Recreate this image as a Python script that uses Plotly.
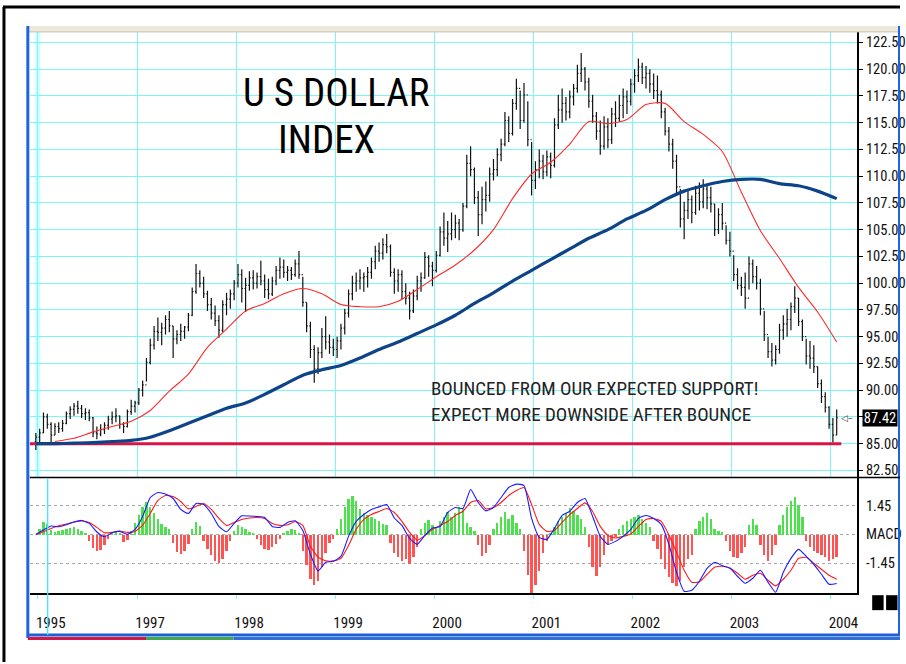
import subprocess
import pandas as pd
import plotly.graph_objects as go

# ---------------- data ----------------
bar_dates = pd.date_range("1995-12-25", "2004-01-24", periods=211)

highs = [
    86.0, 86.4, 87.9, 87.8, 87.0, 86.9, 87.0, 87.2, 88.0, 88.5,
    88.8, 89.0, 88.6, 88.3, 88.2, 87.5, 86.6, 86.8, 87.0, 87.6,
    88.0, 88.3, 87.6, 87.0, 88.2, 89.1, 89.0, 90.2, 90.9, 93.0,
    94.8, 96.0, 96.8, 96.3, 97.0, 97.4, 96.0, 95.6, 96.2, 96.0,
    97.2, 99.6, 101.8, 101.2, 100.6, 99.3, 98.6, 97.9, 97.0, 98.4,
    99.1, 99.4, 100.3, 101.8, 101.3, 100.5, 101.1, 101.2, 101.0, 102.1,
    100.8, 100.4, 100.6, 101.6, 102.4, 102.2, 101.6, 101.5, 102.2, 103.0,
    100.6, 98.2, 96.4, 94.2, 94.0, 95.8, 96.9, 95.2, 94.8, 95.0,
    96.2, 97.6, 99.4, 100.7, 101.0, 101.3, 101.0, 101.5, 102.4, 103.5,
    103.8, 104.2, 104.6, 103.6, 101.4, 101.3, 101.2, 100.0, 99.2, 99.4,
    100.7, 101.0, 102.9, 102.6, 102.0, 103.0, 105.3, 106.6, 105.8, 106.6,
    106.4, 106.0, 107.5, 112.0, 112.8, 110.8, 108.6, 109.0, 109.5, 110.8,
    111.6, 112.6, 113.5, 116.0, 115.6, 117.2, 119.1, 118.0, 118.7, 117.0,
    113.2, 111.4, 112.5, 112.0, 112.4, 112.2, 115.4, 117.6, 118.2, 117.4,
    118.0, 118.6, 120.4, 121.5, 120.2, 119.2, 117.6, 116.0, 115.2, 115.6,
    115.4, 116.4, 117.0, 117.6, 118.2, 118.0, 119.1, 120.0, 121.0, 120.6,
    120.3, 120.0, 119.6, 119.4, 118.0, 116.4, 114.6, 113.5, 112.0, 108.8,
    107.6, 108.6, 108.2, 109.1, 109.4, 109.7, 109.2, 109.0, 107.4, 107.0,
    107.5, 105.4, 104.8, 102.6, 101.4, 100.6, 101.0, 102.5, 102.2, 101.6,
    100.4, 97.4, 95.0, 94.4, 94.2, 96.2, 97.0, 97.6, 98.2, 99.7,
    98.6, 96.6, 94.8, 94.6, 94.2, 92.2, 91.0, 89.8, 88.5, 87.4, 88.2,
]
lows = [
    84.4, 85.0, 86.0, 86.4, 85.1, 85.8, 86.0, 86.1, 86.8, 87.3,
    87.6, 87.8, 87.4, 87.2, 87.1, 85.6, 85.4, 85.7, 85.9, 86.3,
    86.8, 87.0, 86.4, 86.0, 86.5, 87.7, 87.9, 88.6, 89.4, 90.8,
    92.4, 93.8, 94.6, 94.2, 95.2, 95.4, 93.0, 94.3, 94.6, 94.8,
    95.5, 96.9, 99.0, 99.6, 98.6, 97.4, 96.6, 96.0, 94.9, 95.4,
    97.0, 97.6, 98.4, 99.6, 98.2, 97.3, 99.3, 99.4, 99.5, 99.8,
    98.6, 98.5, 98.8, 99.8, 100.4, 100.5, 100.2, 100.3, 100.6, 100.4,
    97.8, 95.4, 93.0, 90.7, 91.5, 93.0, 93.8, 93.4, 93.2, 93.0,
    93.8, 95.2, 96.8, 98.4, 99.2, 99.4, 99.2, 99.6, 100.4, 101.3,
    102.0, 102.2, 102.8, 100.6, 99.0, 99.2, 98.5, 98.0, 96.6, 97.2,
    98.4, 99.2, 100.4, 100.6, 99.7, 101.0, 102.5, 103.5, 102.9, 104.0,
    104.2, 104.0, 104.8, 107.0, 110.0, 107.4, 104.4, 105.5, 106.7, 107.6,
    109.6, 110.0, 111.4, 112.8, 113.2, 113.8, 116.2, 114.4, 115.0, 112.8,
    108.2, 108.8, 109.8, 109.7, 110.0, 109.8, 110.8, 114.4, 115.0, 115.2,
    115.4, 116.6, 117.8, 118.8, 118.0, 116.4, 115.0, 113.4, 112.0, 112.5,
    112.6, 113.0, 114.6, 115.1, 115.4, 115.8, 116.6, 117.8, 118.8, 118.6,
    118.2, 117.8, 117.2, 116.8, 115.4, 113.8, 112.3, 110.7, 108.4, 105.2,
    104.1, 106.0, 105.6, 106.4, 106.8, 107.0, 106.9, 106.6, 104.4, 104.6,
    105.0, 103.6, 102.5, 100.2, 99.4, 98.8, 97.6, 99.4, 100.0, 99.4,
    97.0, 94.6, 93.0, 92.2, 92.4, 93.4, 94.7, 95.0, 95.6, 97.2,
    96.0, 94.6, 92.4, 92.0, 91.6, 90.2, 88.8, 87.9, 86.4, 85.1, 85.8,
]
closes = [
    85.6, 86.0, 87.5, 86.8, 85.8, 86.6, 86.4, 86.9, 87.8, 88.2,
    88.5, 88.3, 87.8, 87.9, 87.4, 86.0, 85.9, 86.3, 86.7, 87.3,
    87.5, 87.6, 86.8, 86.6, 88.0, 88.5, 88.8, 90.0, 90.5, 92.6,
    94.2, 95.5, 95.4, 95.8, 96.6, 96.0, 94.8, 95.2, 95.5, 95.9,
    97.0, 99.2, 100.9, 100.0, 99.0, 98.0, 97.2, 96.5, 95.6, 98.0,
    98.5, 99.0, 100.0, 100.8, 99.5, 99.8, 100.5, 100.0, 100.6, 100.2,
    99.4, 99.0, 100.2, 101.2, 101.5, 101.0, 101.2, 100.8, 101.8, 100.8,
    98.2, 96.0, 93.8, 92.0, 93.5, 95.0, 94.5, 94.0, 93.8, 94.6,
    95.8, 97.2, 99.0, 100.0, 100.2, 100.5, 100.6, 101.0, 102.0, 103.0,
    102.8, 103.6, 103.4, 101.0, 100.2, 100.8, 99.2, 98.6, 97.4, 98.8,
    100.2, 100.5, 102.4, 101.6, 101.2, 102.6, 104.8, 104.2, 104.6, 105.0,
    105.6, 105.0, 107.2, 111.2, 110.6, 108.0, 106.4, 107.8, 108.2, 110.2,
    110.6, 112.0, 113.0, 115.2, 114.0, 116.8, 118.2, 115.2, 117.6, 113.4,
    109.6, 110.6, 111.4, 110.4, 111.8, 111.0, 114.8, 116.2, 116.8, 116.0,
    117.4, 118.2, 119.6, 120.0, 118.8, 117.0, 115.6, 114.2, 112.8, 114.6,
    113.4, 115.8, 115.4, 116.6, 117.4, 117.0, 118.6, 119.4, 120.2, 119.2,
    119.6, 118.6, 118.0, 117.6, 116.0, 114.2, 113.0, 111.4, 109.0, 106.0,
    106.8, 107.8, 106.6, 108.4, 107.6, 108.8, 108.0, 107.4, 105.0, 106.4,
    105.6, 104.0, 103.0, 100.8, 99.8, 99.6, 98.6, 101.8, 100.6, 100.0,
    97.6, 95.2, 93.6, 92.8, 93.8, 95.6, 96.2, 96.6, 97.8, 98.6,
    96.4, 95.0, 93.2, 93.0, 92.2, 90.6, 89.4, 88.4, 86.8, 85.8, 87.42,
]
first_open = 85.2

# red moving average, every 5th bar from bar 5
ma_red = [85.2, 85.5, 86.1, 86.6, 87.1, 88.1, 89.9, 91.5, 94.0, 95.7,
          97.4, 98.1, 99.0, 99.5, 99.0, 98.0, 97.8, 97.8, 98.3, 99.4,
          100.6, 101.7, 103.1, 105.0, 107.9, 110.2, 111.3, 113.0, 115.1, 114.9,
          115.3, 116.7, 116.8, 115.1, 113.9, 112.3, 108.5, 104.9, 102.3, 99.6,
          97.3, 94.5]
# blue long moving average, every 5th bar from bar 0
ma_blue = [85.0, 85.0, 85.05, 85.1, 85.2, 85.3, 85.6, 86.2, 86.9, 87.6,
           88.3, 88.8, 89.6, 90.5, 91.4, 91.9, 92.3, 93.0, 93.8, 94.5,
           95.3, 96.1, 97.0, 98.1, 99.1, 100.2, 101.2, 102.2, 103.2, 104.2,
           105.0, 106.0, 106.8, 107.8, 108.6, 109.1, 109.5, 109.7, 109.7, 109.3,
           109.1, 108.6, 107.9]

# MACD lines, every 2nd bar
macd_line = [0.00, 0.22, 0.42, 0.38, 0.48, 0.62, 0.70, 0.55, 0.12, -0.12,
             0.08, 0.15, 0.00, 0.25, 0.90, 1.85, 2.10, 2.02, 1.80, 1.25,
             1.05, 1.55, 1.50, 1.05, 0.40, 0.13, 0.55, 0.93, 0.92, 0.90,
             0.85, 0.40, 0.35, 0.60, 0.68, 0.20, -1.00, -1.83, -1.40, -1.35,
             -1.10, -0.10, 0.65, 1.00, 1.25, 1.38, 1.50, 0.82, 0.45, -0.20,
             -0.50, -0.05, 0.32, 0.39, 1.10, 1.35, 1.30, 2.25, 1.60, 1.18,
             1.35, 1.85, 2.35, 2.52, 2.45, 0.80, -0.15, -0.25, 0.30, 0.95,
             1.16, 1.60, 1.80, 0.90, -0.10, -0.50, -0.35, -0.10, 0.25, 0.80,
             0.95, 0.80, 0.50, -0.50, -1.90, -2.85, -2.80, -2.35, -1.70, -1.40,
             -1.57, -1.70, -2.10, -2.45, -2.20, -1.80, -2.40, -2.90, -1.90, -1.20,
             -0.75, -1.10, -1.50, -2.00, -2.50, -2.46]
signal_line = [0.00, 0.13, 0.30, 0.43, 0.52, 0.62, 0.67, 0.60, 0.35, 0.08,
               0.10, 0.17, 0.10, 0.15, 0.45, 1.05, 1.70, 1.95, 1.90, 1.65,
               1.28, 1.40, 1.55, 1.25, 0.80, 0.45, 0.60, 0.75, 0.82, 0.85,
               0.80, 0.55, 0.45, 0.48, 0.65, 0.45, -0.60, -1.14, -1.32, -1.33,
               -1.20, -0.55, 0.25, 0.75, 1.00, 1.15, 1.30, 1.10, 0.65, 0.10,
               -0.29, -0.05, 0.25, 0.45, 0.65, 0.95, 1.16, 1.60, 1.70, 1.28,
               1.35, 1.60, 1.95, 2.20, 2.35, 1.50, 0.50, 0.15, 0.20, 0.60,
               0.99, 1.30, 1.58, 1.15, 0.40, -0.05, -0.18, -0.10, 0.02, 0.40,
               0.75, 0.80, 0.65, -0.03, -0.90, -1.80, -2.40, -2.38, -2.00, -1.65,
               -1.60, -1.68, -1.95, -2.25, -2.05, -1.95, -2.30, -2.58, -2.25, -1.80,
               -1.20, -1.15, -1.45, -1.75, -2.05, -2.25]
macd_hist = [
    0.0, 0.3, 0.63, 0.55, 0.25, 0.15, 0.2, 0.25, 0.3, 0.35,
    0.38, 0.3, 0.2, 0.05, -0.3, -0.65, -0.83, -0.75, -0.5, -0.2,
    0.1, 0.15, 0.05, -0.37, -0.25, 0.2, 0.6, 1.0, 1.4, 1.63,
    1.4, 1.1, 0.8, 0.55, 0.4, 0.3, -0.4, -0.85, -0.95, -0.8,
    -0.45, 0.3, 0.63, 0.45, -0.3, -0.7, -1.0, -1.3, -1.4, -1.2,
    -0.8, -0.3, 0.2, 0.47, 0.4, 0.3, 0.15, 0.1, -0.2, -0.5,
    -0.7, -0.78, -0.6, -0.45, -0.2, 0.05, 0.2, 0.3, 0.25, 0.1,
    -0.8, -1.5, -2.2, -2.5, -2.3, -1.6, -0.9, -0.4, -0.2, 0.3,
    0.8, 1.4, 1.8, 1.93, 1.7, 1.3, 1.1, 1.0, 0.9, 0.8,
    0.7, 0.55, 0.48, -0.4, -0.9, -1.1, -1.3, -1.2, -1.48, -1.1,
    -0.6, 0.3, 0.6, 0.73, 0.5, 0.4, 0.7, 0.9, 1.16, 0.9,
    1.1, 1.42, 1.3, 0.6, 0.4, 0.2, -0.5, -1.06, -0.9, -0.5,
    0.3, 0.6, 0.9, 1.16, 0.8, 1.0, 0.6, 0.3, -0.8, -2.0,
    -2.93, -2.5, -1.8, -0.9, -0.3, 0.1, 0.4, 0.7, 0.9, 1.1,
    1.33, 1.2, 1.0, 0.8, 0.4, -0.6, -1.6, -2.08, -1.6, -1.0,
    -0.5, -0.3, -0.1, 0.3, 0.5, 0.7, 0.8, 0.9, 0.99, 0.8,
    0.6, 0.4, -0.3, -0.7, -1.2, -1.7, -2.1, -2.4, -2.59, -2.3,
    -1.6, -1.2, -1.0, 0.3, 0.7, 0.9, 1.07, 0.8, 0.3, 0.2,
    0.15, -0.3, -0.8, -1.1, -1.14, -0.9, -0.6, 0.5, 0.78, 0.5,
    -0.5, -1.0, -1.31, -1.0, -0.5, 0.5, 1.0, 1.4, 1.7, 1.88,
    1.5, 0.9, -0.3, -0.6, -0.8, -0.9, -1.0, -1.1, -1.31, -1.2, -1.1,
]

support_level = 85.0
support_span = ["1995-12-02", "2004-02-10"]
last_price = 87.42

price_ticks = [82.5, 85.0, 87.5, 90.0, 92.5, 95.0, 97.5, 100.0, 102.5, 105.0,
               107.5, 110.0, 112.5, 115.0, 117.5, 120.0, 122.5]
# the 87.50 label is covered by the last-price box in the original
price_labels = ["82.50", "85.00", "", "90.00", "92.50", "95.00", "97.50", "100.00",
                "102.50", "105.00", "107.50", "110.00", "112.50", "115.00", "117.50",
                "120.00", "122.50"]
year_ticks = ["1996-01-01", "1997-01-01", "1998-01-01", "1999-01-01", "2000-01-01",
              "2001-01-01", "2002-01-01", "2003-01-01", "2004-01-01"]
year_labels = ["1995", "1997", "1998", "1999", "2000", "2001", "2002", "2003", "2004"]
macd_ticks = [1.45, 0.0, -1.45]
macd_labels = ["1.45", "MACD", "-1.45"]

title_lines = ["U S DOLLAR", "INDEX"]
note_lines = ["BOUNCED FROM OUR EXPECTED SUPPORT!", "EXPECT MORE DOWNSIDE AFTER BOUNCE"]

# ---------------- font choice (narrow face if one is installed) ----------------
try:
    _fams = subprocess.run(["fc-list", ":", "family"], capture_output=True,
                           text=True, timeout=10).stdout
except Exception:
    _fams = ""
if "Liberation Sans Narrow" in _fams:
    FONT, S = "Liberation Sans Narrow", 1.0
elif "Roboto Condensed" in _fams:
    FONT, S = "Roboto Condensed", 1.0
elif "DejaVu Sans Condensed" in _fams:
    FONT, S = "DejaVu Sans Condensed", 0.87
else:
    FONT, S = "Liberation Sans", 0.82

SZ_TITLE = round(39 * S, 1)
SZ_NOTE = round(19 * S, 1)
SZ_TICK = round(14.5 * S, 1)
SZ_YEAR = round(15 * S, 1)

# ---------------- layout helpers ----------------
W, H = 906, 664
def PX(x):
    return x / W
def PY(y):
    return 1 - y / H

CYAN = "#7ff6f6"
X_RANGE = ["1995-12-02 17:00", "2004-04-08 21:00"]

opens = [first_open] + closes[:-1]

fig = go.Figure()

fig.add_trace(go.Ohlc(
    x=bar_dates, open=opens, high=highs, low=lows, close=closes,
    increasing=dict(line=dict(color="#111111", width=1.2)),
    decreasing=dict(line=dict(color="#111111", width=1.2)),
    tickwidth=0.3, xaxis="x", yaxis="y", hoverinfo="skip"))

fig.add_trace(go.Scatter(x=support_span, y=[support_level, support_level], mode="lines",
                         line=dict(color="#dc1446", width=3), xaxis="x", yaxis="y"))
fig.add_trace(go.Scatter(x=bar_dates[5::5], y=ma_red, mode="lines",
                         line=dict(color="#ff2a2a", width=1.1, shape="spline", smoothing=0.7),
                         xaxis="x", yaxis="y"))
fig.add_trace(go.Scatter(x=bar_dates[::5], y=ma_blue, mode="lines",
                         line=dict(color="#0f4388", width=3.2, shape="spline", smoothing=0.7),
                         xaxis="x", yaxis="y"))

hist_colors = ["#4de24d" if v >= 0 else "#ff5454" for v in macd_hist]
fig.add_trace(go.Bar(x=bar_dates, y=macd_hist, marker=dict(color=hist_colors, line=dict(width=0)),
                     width=6.0e8, xaxis="x2", yaxis="y2"))
fig.add_trace(go.Scatter(x=bar_dates[::2], y=signal_line, mode="lines",
                         line=dict(color="#ff1a1a", width=1.1, shape="spline", smoothing=0.5),
                         xaxis="x2", yaxis="y2"))
fig.add_trace(go.Scatter(x=bar_dates[::2], y=macd_line, mode="lines",
                         line=dict(color="#1a1aff", width=1.1, shape="spline", smoothing=0.5),
                         xaxis="x2", yaxis="y2"))

tick_font = dict(family=FONT, size=SZ_TICK, color="#111111")

fig.update_layout(
    width=W, height=H, margin=dict(l=0, r=0, t=0, b=0),
    paper_bgcolor="white", plot_bgcolor="white", showlegend=False, bargap=0,
    xaxis=dict(domain=[PX(30), PX(863)], range=X_RANGE, anchor="y", type="date",
               showgrid=True, gridcolor=CYAN, gridwidth=1.3, tickvals=year_ticks,
               showticklabels=False, ticks="", showline=False, zeroline=False,
               rangeslider=dict(visible=False)),
    xaxis2=dict(domain=[PX(30), PX(863)], range=X_RANGE, anchor="y2", type="date", matches="x",
                showgrid=False, tickvals=year_ticks, ticktext=year_labels,
                ticks="outside", ticklen=4, tickcolor=CYAN, tickwidth=1.3,
                ticklabelshift=13, ticklabelstandoff=11,
                showline=True, linecolor="black", linewidth=1.5, zeroline=False,
                tickfont=dict(family=FONT, size=SZ_YEAR, color="#111111"),
                rangeslider=dict(visible=False)),
    yaxis=dict(domain=[PY(479), PY(32)], range=[81.83, 123.48], side="right", anchor="x",
               tickvals=price_ticks, ticktext=price_labels, showgrid=True, gridcolor=CYAN,
               gridwidth=1.3, ticks="outside", ticklen=4, tickcolor="black",
               showline=True, linecolor="black", linewidth=1.5, zeroline=False,
               tickfont=tick_font),
    yaxis2=dict(domain=[PY(595), PY(479)], range=[-2.95, 2.85], side="right", anchor="x2",
                tickvals=macd_ticks, ticktext=macd_labels, showgrid=True,
                gridcolor="#a8a8a8", griddash="3px,3px", gridwidth=1, ticks="outside",
                ticklen=4, tickcolor="white",
                showline=True, linecolor="black", linewidth=1.5, zeroline=False,
                tickfont=tick_font),
)

shapes = []
def pline(x0, y0, x1, y1, color, width, layer="above"):
    shapes.append(dict(type="line", xref="paper", yref="paper", x0=PX(x0), y0=PY(y0),
                       x1=PX(x1), y1=PY(y1), line=dict(color=color, width=width), layer=layer))
def prect(x0, y0, x1, y1, fill, layer="above"):
    shapes.append(dict(type="rect", xref="paper", yref="paper", x0=PX(x0), y0=PY(y0),
                       x1=PX(x1), y1=PY(y1), fillcolor=fill, line=dict(width=0), layer=layer))

# window frame
pline(4, 7, 4, 664, "black", 3)
pline(3, 7, 906, 7, "black", 3)
prect(29, 26, 906, 32, "#ece9d8")
pline(29, 32, 906, 32, "#c4c0b4", 1)
pline(28, 26, 28, 640, "#1f63e0", 3)
pline(905, 26, 905, 638, "#1f63e0", 2)
pline(28, 637, 906, 637, "#1f5fd6", 3)
prect(28, 639, 147, 642, "#d21848")
prect(147, 639, 235, 642, "#3ea84a")
prect(235, 639, 906, 642, "#2f6fd8")
# panel separator
pline(30, 479, 906, 479, "black", 1.5)
# pale first-year band and cursor line
prect(35.5, 32, 40.5, 479, "#ccffff", layer="below")
pline(48, 480, 48, 637, "#3fe6ff", 1.3)
# white boxes behind texts
prect(238, 72, 437, 166, "white", layer="between")
prect(430, 373, 763, 428, "white", layer="between")
# two black squares
prect(878, 597, 889.5, 612, "black")
prect(892, 597, 903.5, 612, "black")
fig.update_layout(shapes=shapes)

ann = []
ann.append(dict(xref="paper", yref="paper", x=PX(338.5), y=PY(93), text=title_lines[0],
                showarrow=False, xanchor="center", yanchor="middle",
                font=dict(family=FONT, size=SZ_TITLE, color="black")))
ann.append(dict(xref="paper", yref="paper", x=PX(328.5), y=PY(140), text=title_lines[1],
                showarrow=False, xanchor="center", yanchor="middle",
                font=dict(family=FONT, size=SZ_TITLE, color="black")))
ann.append(dict(xref="paper", yref="paper", x=PX(432), y=PY(390), text=note_lines[0],
                showarrow=False, xanchor="left", yanchor="middle",
                font=dict(family=FONT, size=SZ_NOTE, color="#222222")))
ann.append(dict(xref="paper", yref="paper", x=PX(432), y=PY(416), text=note_lines[1],
                showarrow=False, xanchor="left", yanchor="middle",
                font=dict(family=FONT, size=SZ_NOTE, color="#222222")))
ann.append(dict(xref="paper", yref="y", x=PX(867.5), y=last_price, text=f"{last_price:.2f}",
                showarrow=False, xanchor="left", yanchor="middle", bgcolor="black",
                width=34, height=16, align="center", borderpad=0,
                font=dict(family=FONT, size=SZ_TICK, color="white")))
ann.append(dict(xref="paper", yref="y", x=PX(853), y=last_price, text="◁–",
                showarrow=False, xanchor="center", yanchor="middle",
                font=dict(family="DejaVu Sans", size=9, color="#333333")))
fig.update_layout(annotations=ann)

fig.write_html("out.html")
